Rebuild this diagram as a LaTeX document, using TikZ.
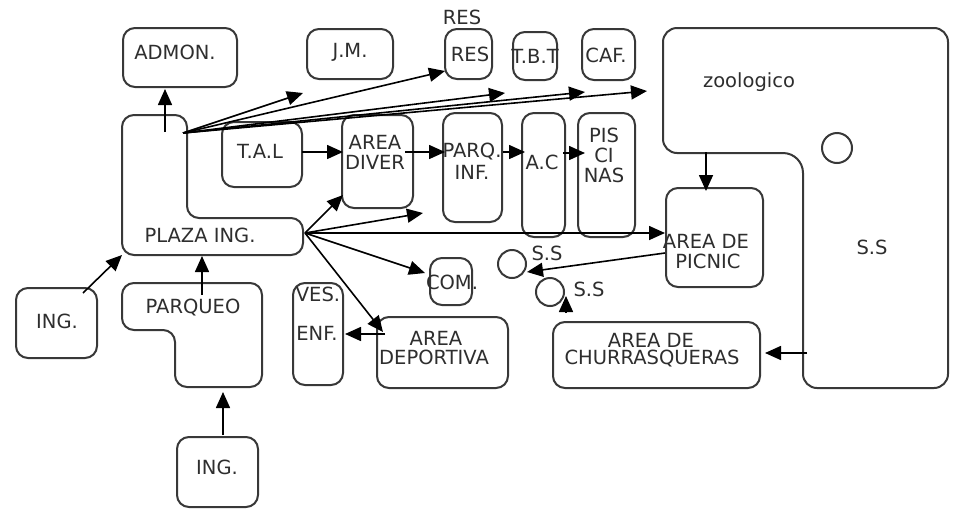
\documentclass[tikz,border=0pt]{standalone}
\usepackage{fontspec}
\setmainfont{DejaVu Sans}
\usetikzlibrary{arrows.meta}
\definecolor{ink}{HTML}{383838}
\definecolor{txt}{HTML}{2E2E2E}
\begin{document}
\begin{tikzpicture}[x=1pt,y=-1pt,
  box/.style={draw=ink,line width=2pt,rounded corners=12pt,inner sep=0pt,outer sep=0pt},
  shp/.style={draw=ink,line width=2pt,rounded corners=12pt},
  lbl/.style={font=\fontsize{19.5}{21}\selectfont,text=txt,inner sep=0pt},
  arr/.style={draw=black,line width=1.6pt,-{Triangle[length=16pt,width=14pt]}}
]
\useasboundingbox (0,0) rectangle (955,512);
\fill[white] (0,0) rectangle (955,512);

% ---- boxes
\node[box,minimum width=114pt,minimum height=59pt] (admon) at (180,57.5) {};
\node[box,minimum width=86pt,minimum height=50pt] (jm) at (350,54) {};
\node[box,minimum width=47pt,minimum height=50pt] (res) at (468.5,54) {};
\node[box,minimum width=44pt,minimum height=48pt] (tbt) at (535,56) {};
\node[box,minimum width=53pt,minimum height=51pt] (caf) at (608.5,54.5) {};
\node[box,minimum width=80pt,minimum height=65pt] (tal) at (262,154.5) {};
\node[box,minimum width=71pt,minimum height=93pt] (diver) at (377.5,161.5) {};
\node[box,minimum width=59pt,minimum height=109pt] (parq) at (472.5,167.5) {};
\node[box,minimum width=43pt,minimum height=124pt] (ac) at (543.5,175) {};
\node[box,minimum width=57pt,minimum height=124pt] (pis) at (606.5,175) {};
\node[box,minimum width=97pt,minimum height=99pt] (picnic) at (714.5,237.5) {};
\node[box,minimum width=42pt,minimum height=47pt] (com) at (451,281.5) {};
\node[box,minimum width=50pt,minimum height=102pt] (ves) at (318,334) {};
\node[box,minimum width=131pt,minimum height=71pt] (deport) at (442.5,352.5) {};
\node[box,minimum width=207pt,minimum height=66pt] (churr) at (656.5,355) {};
\node[box,minimum width=81pt,minimum height=70pt] (ingl) at (56.5,323) {};
\node[box,minimum width=81pt,minimum height=70pt] (ingb) at (217.5,472) {};

% ---- shapes drawn directly
\draw[shp] (122,115) -- (187,115) -- (187,218) -- (303,218) -- (303,255) -- (122,255) -- cycle;
\draw[shp] (122,283) -- (262,283) -- (262,387) -- (175,387) -- (175,330) -- (122,330) -- cycle;
\draw[shp,rounded corners=14pt] (663,28) -- (948,28) -- (948,388) -- (803,388) [rounded corners=20pt] -- (803,153) [rounded corners=14pt] -- (663,153) -- cycle;
\draw[draw=ink,line width=2pt] (837,148) circle (15pt);
\draw[draw=ink,line width=2pt] (512,264) circle (14pt);
\draw[draw=ink,line width=2pt] (550,292) circle (14pt);

% ---- texts
\node[lbl] (t-admon) at (175,52) {ADMON.};
\node[lbl] (t-jm) at (350,52) {J.M.};
\node[lbl] (t-res0) at (462,17) {RES};
\node[lbl] (t-res) at (470,54) {RES};
\node[lbl] (t-tbt) at (535,56) {T.B.T};
\node[lbl] (t-caf) at (606,55) {CAF.};
\node[lbl] (t-zoo) at (749,82) {zoologico};
\node[lbl] (t-ss) at (872,247) {S.S};
\node[lbl] (t-tal) at (260,151) {T.A.L};
\node[lbl] (t-diver1) at (375,142) {AREA};
\node[lbl] (t-diver2) at (375,162) {DIVER};
\node[lbl] (t-parq1) at (472,152) {PARQ.};
\node[lbl] (t-parq2) at (472,172) {INF.};
\node[lbl] (t-ac) at (542,162) {A.C};
\node[lbl] (t-pis1) at (604,135) {PIS};
\node[lbl] (t-pis2) at (604,155) {CI};
\node[lbl] (t-pis3) at (604,175) {NAS};
\node[lbl] (t-picnic1) at (706,241) {AREA DE};
\node[lbl] (t-picnic2) at (708,261) {PICNIC};
\node[lbl] (t-plaza) at (200,235) {PLAZA ING.};
\node[lbl] (t-ss1) at (547,253) {S.S};
\node[lbl] (t-ss2) at (589,289) {S.S};
\node[lbl] (t-com) at (452,282) {COM.};
\node[lbl] (t-ingl) at (57,321) {ING.};
\node[lbl] (t-parqueo) at (193,308) {PARQUEO};
\node[lbl] (t-ves) at (318,294) {VES.};
\node[lbl] (t-enf) at (317,333) {ENF.};
\node[lbl] (t-dep1) at (436,338) {AREA};
\node[lbl] (t-dep2) at (434,357) {DEPORTIVA};
\node[lbl] (t-ch1) at (651,340) {AREA DE};
\node[lbl] (t-ch2) at (652,359) {CHURRASQUERAS};
\node[lbl] (t-ingb) at (217,467) {ING.};

% ---- connector coordinates
\coordinate (f1) at (183,133);
\coordinate (f2) at (305,233);
\coordinate (a1s) at (165,132);  \coordinate (a1e) at (165,89);
\coordinate (fa) at (303,93);
\coordinate (fb) at (445,71);
\coordinate (fc) at (505,93);
\coordinate (fd) at (585,92);
\coordinate (fe) at (647,91);
\coordinate (tal-e) at (302,152); \coordinate (diver-w) at (343,152);
\coordinate (diver-e) at (405,152); \coordinate (parq-w) at (445,152);
\coordinate (parq-e) at (503,152); \coordinate (ac-w) at (525,152);
\coordinate (ac-e) at (563,153); \coordinate (pis-w) at (585,153);
\coordinate (zoo-s) at (706,152); \coordinate (picnic-n) at (706,191);
\coordinate (ga) at (343,195);
\coordinate (gb) at (423,213);
\coordinate (gc) at (665,233);
\coordinate (gd) at (425,273);
\coordinate (ge) at (383,332);
\coordinate (dep-w) at (385,334); \coordinate (enf-e) at (345,334);
\coordinate (picnic-w) at (665,253); \coordinate (ss1-e) at (527,272);
\coordinate (churr-n) at (566,313); \coordinate (ss2-s) at (566,296);
\coordinate (zoo-w) at (807,353); \coordinate (churr-e) at (765,353);
\coordinate (ingl-ne) at (83,293); \coordinate (plaza-sw) at (122,255);
\coordinate (parqueo-n) at (202,295); \coordinate (plaza-s) at (202,256);
\coordinate (ingb-n) at (223,435); \coordinate (parqueo-s) at (223,392);

% ---- connectors
\draw[arr] (a1s) -- (a1e);
\foreach \t in {fa,fb,fc,fd,fe} \draw[arr] (f1) -- (\t);
\draw[arr] (tal-e) -- (diver-w);
\draw[arr] (diver-e) -- (parq-w);
\draw[arr] (parq-e) -- (ac-w);
\draw[arr] (ac-e) -- (pis-w);
\draw[arr] (zoo-s) -- (picnic-n);
\foreach \t in {ga,gb,gc,gd,ge} \draw[arr] (f2) -- (\t);
\draw[arr] (dep-w) -- (enf-e);
\draw[arr] (picnic-w) -- (ss1-e);
\draw[arr] (churr-n) -- (ss2-s);
\draw[arr] (zoo-w) -- (churr-e);
\draw[arr] (ingl-ne) -- (plaza-sw);
\draw[arr] (parqueo-n) -- (plaza-s);
\draw[arr] (ingb-n) -- (parqueo-s);
\end{tikzpicture}
\end{document}
